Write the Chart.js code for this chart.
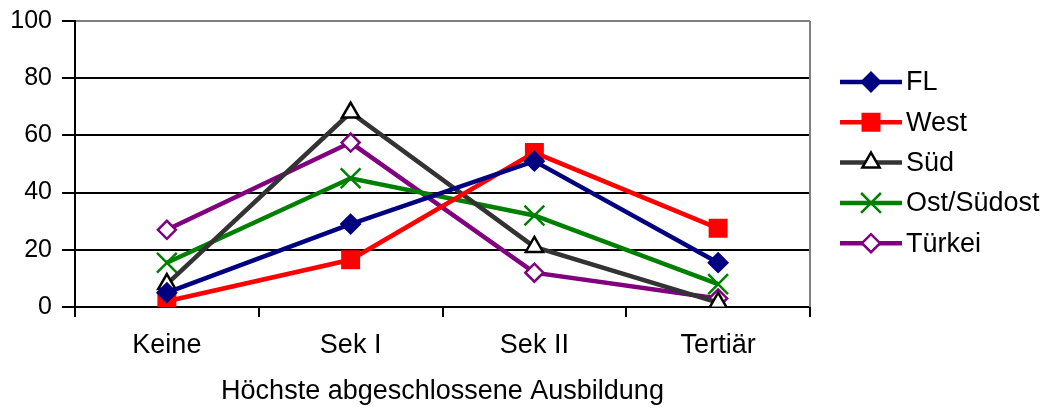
<!DOCTYPE html>
<html>
<head>
<meta charset="utf-8">
<script src="https://cdn.jsdelivr.net/npm/chart.js@4.4.1/dist/chart.umd.min.js"></script>
<style>
  html, body { margin: 0; padding: 0; background: #fff; }
  #wrap { width: 1046px; height: 408px; }
</style>
</head>
<body>
<div id="wrap"><canvas id="eduChart"></canvas></div>
<script>
const categories = ["Keine", "Sek I", "Sek II", "Tertiär"];
const fl = [5, 29, 51, 15.5];
const west = [2, 16.5, 54, 27.5];
const sued = [8, 68, 21, 1.5];
const ostSuedost = [15.5, 45, 32, 8];
const tuerkei = [27, 57.5, 12, 3];
const yTicks = [0, 20, 40, 60, 80, 100];

const FONT = "'Liberation Sans', Arial, sans-serif";

function series(label, data, color, style, opts) {
    return Object.assign({
        label: label,
        data: data,
        borderColor: color,
        backgroundColor: color,
        borderWidth: 4.5,
        pointStyle: style,
        pointRadius: 9,
        pointBorderColor: color,
        pointBackgroundColor: color,
        pointBorderWidth: 2,
        tension: 0
    }, opts || {});
}

const datasets = [
    series("FL", fl, "#000080", "rectRot", { pointRadius: 9.5 }),
    series("West", west, "#ff0000", "rect", { pointRadius: 12 }),
    series("Süd", sued, "#333333", "triangle", { pointBorderColor: "#000", pointBackgroundColor: "#fff", pointRadius: 10, pointBorderWidth: 2.5 }),
    series("Ost/Südost", ostSuedost, "#008000", "crossRot", { pointRadius: 14, pointBorderWidth: 2.5 }),
    series("Türkei", tuerkei, "#800080", "rectRot", { pointBackgroundColor: "#fff", pointRadius: 9, pointBorderWidth: 2.5 })
];

// right border + line/marker legend
const extras = {
    id: "extras",
    afterDraw(chart) {
        const c = chart.ctx;
        const a = chart.chartArea;
        c.save();
        c.strokeStyle = "#808080";
        c.lineWidth = 2;
        c.beginPath();
        c.moveTo(a.right, a.top);
        c.lineTo(a.right, a.bottom);
        c.stroke();

        const x0 = a.right + 30;
        let y = 82;
        chart.data.datasets.forEach(ds => {
            c.strokeStyle = ds.borderColor;
            c.lineWidth = ds.borderWidth;
            c.beginPath();
            c.moveTo(x0, y);
            c.lineTo(x0 + 62, y);
            c.stroke();
            c.strokeStyle = ds.pointBorderColor;
            c.fillStyle = ds.pointBackgroundColor;
            c.lineWidth = ds.pointBorderWidth;
            Chart.helpers.drawPoint(c, { pointStyle: ds.pointStyle, radius: ds.pointRadius, rotation: 0, borderWidth: ds.pointBorderWidth }, x0 + 31, y);
            c.fillStyle = "#000";
            c.font = "27px " + FONT;
            c.textBaseline = "middle";
            c.fillText(ds.label, x0 + 66, y + 1);
            y += 40.3;
        });
        c.restore();
    }
};

new Chart(document.getElementById("eduChart"), {
    type: "line",
    data: { labels: categories, datasets: datasets },
    options: {
        responsive: true,
        maintainAspectRatio: false,
        animation: false,
        layout: { padding: { top: 21, right: 236, left: 0, bottom: 0 } },
        plugins: { legend: { display: false }, tooltip: { enabled: false } },
        scales: {
            x: {
                offset: true,
                afterFit(s) { s.height = 101; s.paddingLeft = 0; s.paddingRight = 0; },
                grid: { drawOnChartArea: false, drawTicks: true, tickLength: 10, color: "#000", lineWidth: 2, offset: true },
                border: { color: "#000", width: 2 },
                ticks: { color: "#000", font: { family: FONT, size: 27 }, padding: 12 },
                title: { display: true, text: "Höchste abgeschlossene Ausbildung", color: "#000", font: { family: FONT, size: 27 }, padding: { top: 8, bottom: 0 } }
            },
            y: {
                min: 0,
                max: 100,
                afterFit(s) { s.width = 75; s.paddingTop = 0; s.paddingBottom = 0; },
                afterBuildTicks(s) { s.ticks = yTicks.map(v => ({ value: v })); },
                grid: {
                    color: ctx => (ctx.tick && ctx.tick.value === 100 ? "#808080" : "#000"),
                    lineWidth: 2,
                    tickLength: 13,
                    tickColor: "#000"
                },
                border: { color: "#000", width: 2 },
                ticks: { color: "#000", font: { family: FONT, size: 25, lineHeight: 1 }, padding: 10 }
            }
        }
    },
    plugins: [extras]
});
</script>
</body>
</html>
